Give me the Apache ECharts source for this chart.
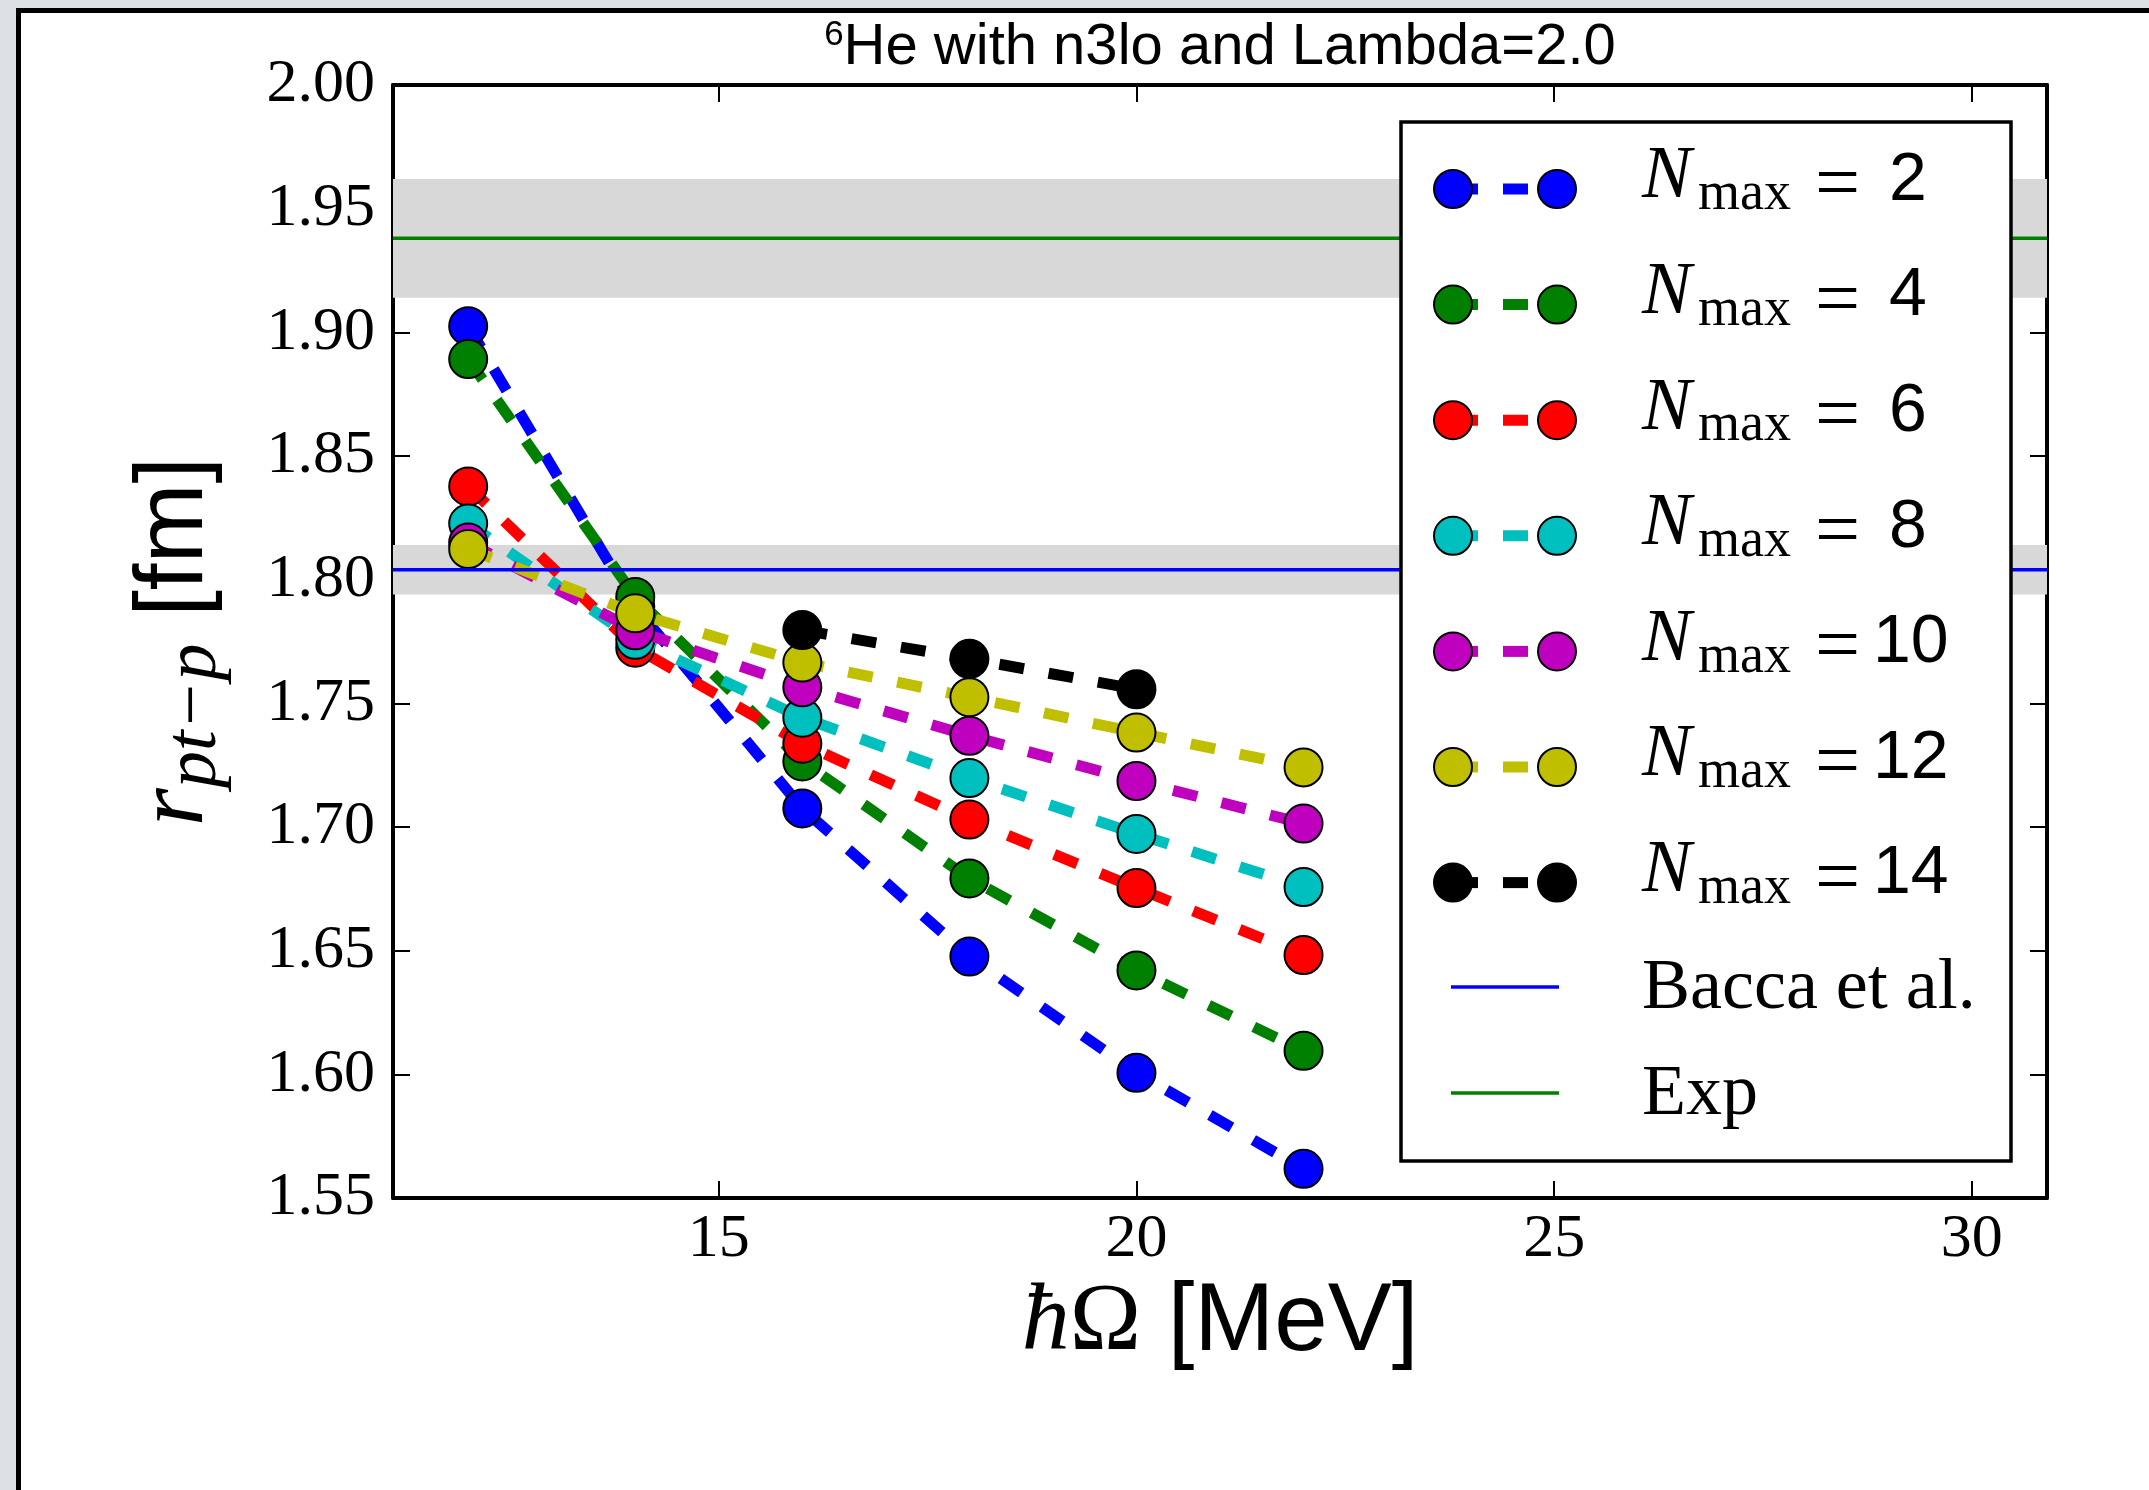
<!DOCTYPE html>
<html>
<head>
<meta charset="utf-8">
<title>6He point-proton radius, n3lo, Lambda=2.0</title>
<script src="https://cdn.jsdelivr.net/npm/echarts@6/dist/echarts.min.js"></script>
<style>
  html, body { margin: 0; padding: 0; width: 2149px; height: 1490px; overflow: hidden; background: #dde1e6; }
  #sheet { position: absolute; left: 16px; top: 8px; right: 0; bottom: 0; background: #ffffff;
           border-left: 5px solid #000; border-top: 5px solid #000; }
  #chart { position: absolute; left: 0; top: 0; width: 2149px; height: 1490px; }
</style>
</head>
<body>
<div id="sheet"></div>
<div id="chart"></div>
<script>
// Oscillator energies (MeV) at which each model space was computed
const hbarOmega = [12, 14, 16, 18, 20, 22];
const hbarOmegaNmax14 = [16, 18, 20];

// Point-proton rms radius r_pt-p (fm) for each Nmax
const radiusNmax2  = [1.9025, 1.789, 1.7075, 1.6476, 1.6006, 1.5618];
const radiusNmax4  = [1.8892, 1.7930, 1.7265, 1.6792, 1.6420, 1.6095];
const radiusNmax6  = [1.8377, 1.7725, 1.7337, 1.7030, 1.6753, 1.6482];
const radiusNmax8  = [1.8227, 1.7757, 1.7442, 1.7198, 1.6972, 1.6757];
const radiusNmax10 = [1.8150, 1.7795, 1.7565, 1.7369, 1.7186, 1.7014];
const radiusNmax12 = [1.8124, 1.7864, 1.7665, 1.7525, 1.7382, 1.7241];
const radiusNmax14 = [1.7796, 1.7680, 1.7557];

// Reference values with their uncertainty bands
const baccaRadius = 1.804;
const baccaBand = [1.794, 1.814];
const expRadius = 1.938;
const expBand = [1.914, 1.962];

// Axis ranges and tick positions
const xRange = [11.1, 30.9];
const yRange = [1.55, 2.00];
const xTicks = [15, 20, 25, 30];
const yTicks = [1.55, 1.60, 1.65, 1.70, 1.75, 1.80, 1.85, 1.90, 1.95, 2.00];

// Legend labels for the model spaces
const nmaxLabels = ['2', '4', '6', '8', '10', '12', '14'];

const runs = [
  { nmax: nmaxLabels[0], x: hbarOmega, y: radiusNmax2,  color: '#0000ff' },
  { nmax: nmaxLabels[1], x: hbarOmega, y: radiusNmax4,  color: '#008000' },
  { nmax: nmaxLabels[2], x: hbarOmega, y: radiusNmax6,  color: '#ff0000' },
  { nmax: nmaxLabels[3], x: hbarOmega, y: radiusNmax8,  color: '#00bfbf' },
  { nmax: nmaxLabels[4], x: hbarOmega, y: radiusNmax10, color: '#bf00bf' },
  { nmax: nmaxLabels[5], x: hbarOmega, y: radiusNmax12, color: '#bfbf00' },
  { nmax: nmaxLabels[6], x: hbarOmegaNmax14, y: radiusNmax14, color: '#000000' }
];

const SERIF = '"Liberation Serif", "DejaVu Serif", serif';
const SANS = '"Liberation Sans", Arial, sans-serif';
const MARKER = 38;
const LINE_W = 11;
const DASH = [25, 25];

const nmaxSeries = runs.map((r, i) => ({
  type: 'line',
  name: 'Nmax=' + r.nmax,
  data: r.x.map((x, j) => [x, r.y[j]]),
  z: 3 + i,
  symbol: 'circle',
  symbolSize: MARKER,
  showSymbol: true,
  showAllSymbol: true,
  lineStyle: { color: r.color, width: LINE_W, type: DASH, cap: 'butt' },
  itemStyle: { color: r.color, borderColor: '#000', borderWidth: 2 },
  emphasis: { disabled: true },
  silent: true
}));

function refSeries(name, value, band, color) {
  return {
    type: 'line',
    name: name,
    data: [[xRange[0], value], [xRange[1], value]],
    z: 20,
    showSymbol: false,
    symbol: 'none',
    lineStyle: { color: color, width: 3.5, type: 'solid' },
    emphasis: { disabled: true },
    silent: true,
    markArea: {
      silent: true,
      z: 1,
      itemStyle: { color: '#d8d8d8' },
      label: { show: false },
      data: [[{ xAxis: xRange[0], yAxis: band[0] }, { xAxis: xRange[1], yAxis: band[1] }]]
    }
  };
}

// Legend drawn as a boxed panel in the upper right of the plot
const legendElems = [];
const LX1 = 1453, LX2 = 1557, TX = 1642;
legendElems.push({
  type: 'rect', z: 100,
  shape: { x: 1401, y: 122, width: 610, height: 1039 },
  style: { fill: '#ffffff', stroke: '#000000', lineWidth: 3.5 }
});
runs.forEach((r, i) => {
  const y = 189 + i * 115.6;
  legendElems.push({
    type: 'line', z: 101,
    shape: { x1: LX1, y1: y, x2: LX2, y2: y },
    style: { stroke: r.color, lineWidth: LINE_W, lineDash: DASH, lineCap: 'butt' }
  });
  [LX1, LX2].forEach(cx => legendElems.push({
    type: 'circle', z: 102,
    shape: { cx: cx, cy: y, r: MARKER / 2 },
    style: { fill: r.color, stroke: '#000', lineWidth: 2 }
  }));
  legendElems.push({ type: 'text', z: 102, x: TX, y: y - 11,
    style: { text: 'N', font: 'italic 74px ' + SERIF, fill: '#000', align: 'left', verticalAlign: 'middle' } });
  legendElems.push({ type: 'text', z: 102, x: 1698, y: y + 6,
    style: { text: 'max', font: '54px ' + SERIF, fill: '#000', align: 'left', verticalAlign: 'middle' } });
  legendElems.push({ type: 'text', z: 102, x: 1815, y: y - 1,
    style: { text: '=', font: '80px ' + SERIF, fill: '#000', align: 'left', verticalAlign: 'middle' } });
  legendElems.push({ type: 'text', z: 102, x: r.nmax.length > 1 ? 1873 : 1889, y: y - 8,
    style: { text: r.nmax, font: '68px ' + SANS, fill: '#000', align: 'left', verticalAlign: 'middle' } });
});
[['Bacca et al.', '#0000ff', 987], ['Exp', '#008000', 1093]].forEach(([label, color, y]) => {
  legendElems.push({
    type: 'line', z: 101,
    shape: { x1: 1451, y1: y, x2: 1559, y2: y },
    style: { stroke: color, lineWidth: 3.5 }
  });
  legendElems.push({ type: 'text', z: 102, x: TX, y: y + 2,
    style: { text: label, font: '72px ' + SERIF, fill: '#000', align: 'left', verticalAlign: 'middle' } });
});

// Title above the plot area
legendElems.push({
  type: 'text', z: 100, x: 1220, y: 48,
  style: {
    text: '{sup|6}{t|He with n3lo and Lambda=2.0}',
    align: 'center', verticalAlign: 'middle',
    rich: {
      sup: { fontFamily: SANS, fontSize: 35, fill: '#000', padding: [0, 0, 26, 0] },
      t: { fontFamily: SANS, fontSize: 58, fill: '#000' }
    }
  }
});

const tickStyle = { color: '#000', width: 2 };
const lineAxis = { show: true, onZero: false, lineStyle: { color: '#000', width: 4 } };

const chart = echarts.init(document.getElementById('chart'), null, { renderer: 'canvas' });
chart.setOption({
  animation: false,
  backgroundColor: 'transparent',
  grid: { left: 393, right: 102, top: 85, bottom: 292, containLabel: false, outerBoundsMode: 'none' },
  xAxis: [
    {
      type: 'value', position: 'bottom', min: xRange[0], max: xRange[1],
      axisLine: lineAxis,
      axisTick: { show: true, inside: true, length: 17, lineStyle: tickStyle, customValues: xTicks },
      axisLabel: { show: true, customValues: xTicks, margin: 11, color: '#000',
                   fontFamily: SERIF, fontSize: 62 },
      splitLine: { show: false },
      name: '{h|ħ}{o|Ω}{u| [MeV]}',
      nameLocation: 'middle', nameGap: 71,
      nameTextStyle: {
        color: '#000',
        rich: {
          h: { fontFamily: SERIF, fontStyle: 'italic', fontSize: 96, color: '#000' },
          o: { fontFamily: SERIF, fontSize: 96, color: '#000' },
          u: { fontFamily: SANS, fontSize: 96, color: '#000' }
        }
      }
    },
    {
      type: 'value', position: 'top', min: xRange[0], max: xRange[1],
      axisLine: lineAxis,
      axisTick: { show: true, inside: true, length: 17, lineStyle: tickStyle, customValues: xTicks },
      axisLabel: { show: false },
      splitLine: { show: false }
    }
  ],
  yAxis: [
    {
      type: 'value', position: 'left', min: yRange[0], max: yRange[1],
      axisLine: lineAxis,
      axisTick: { show: true, inside: true, length: 17, lineStyle: tickStyle, customValues: yTicks },
      axisLabel: { show: true, customValues: yTicks, margin: 18, color: '#000',
                   fontFamily: SERIF, fontSize: 62,
                   formatter: v => Number(v).toFixed(2) },
      splitLine: { show: false },
      name: '{r|r}{s|pt−p}{u| [fm]}',
      nameLocation: 'middle', nameRotate: 90, nameGap: 160,
      nameTextStyle: {
        color: '#000',
        rich: {
          r: { fontFamily: SERIF, fontStyle: 'italic', fontSize: 98, color: '#000' },
          s: { fontFamily: SERIF, fontStyle: 'italic', fontSize: 74, color: '#000', padding: [40, 0, 0, 0] },
          u: { fontFamily: SANS, fontSize: 96, color: '#000' }
        }
      }
    },
    {
      type: 'value', position: 'right', min: yRange[0], max: yRange[1],
      axisLine: lineAxis,
      axisTick: { show: true, inside: true, length: 17, lineStyle: tickStyle, customValues: yTicks },
      axisLabel: { show: false },
      splitLine: { show: false }
    }
  ],
  series: nmaxSeries.concat([
    refSeries('Bacca et al.', baccaRadius, baccaBand, '#0000ff'),
    refSeries('Exp', expRadius, expBand, '#008000')
  ]),
  graphic: { elements: legendElems }
});
</script>
</body>
</html>
